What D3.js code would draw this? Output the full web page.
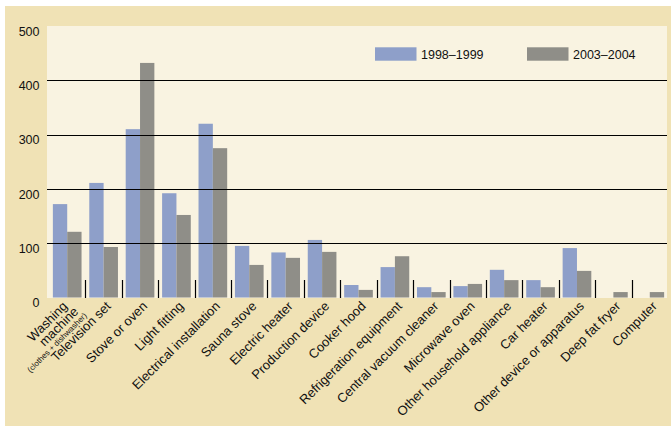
<!DOCTYPE html>
<html>
<head>
<meta charset="utf-8">
<script src="https://cdn.jsdelivr.net/npm/d3@7"></script>
<style>
  html, body { margin: 0; padding: 0; background: #ffffff; }
  svg { display: block; font-family: "Liberation Sans", Arial, Helvetica, sans-serif; }
</style>
</head>
<body>
<svg id="chart" width="671" height="426"></svg>
<script>
const categories = [
  "Washing machine", "Television set", "Stove or oven", "Light fitting",
  "Electrical installation", "Sauna stove", "Electric heater", "Production device",
  "Cooker hood", "Refrigeration equipment", "Central vacuum cleaner", "Microwave oven",
  "Other household appliance", "Car heater", "Other device or apparatus",
  "Deep fat fryer", "Computer"
];
const seriesNames = ["1998–1999", "2003–2004"];
const values1998 = [172, 211, 310, 192, 320, 95, 83, 106, 23, 56, 19, 21, 51, 32, 91, 0, 0];
const values2003 = [121, 93, 432, 152, 275, 60, 73, 84, 14, 76, 10, 25, 32, 19, 49, 10, 10];
const yTicks = [0, 100, 200, 300, 400, 500];
const gridValues = [100, 200, 300, 400];

const colors = ["#8e9fc9", "#8f8e88"];

const svg = d3.select("#chart");

// outer panel
svg.append("rect").attr("x", 5).attr("y", 6).attr("width", 666).attr("height", 420).attr("fill", "#f0e2b5");
// plot area
const plotL = 47, plotR = 667, plotT = 26, plotB = 298;
svg.append("rect").attr("x", plotL).attr("y", plotT).attr("width", plotR - plotL).attr("height", plotB - plotT).attr("fill", "#f9f3e1");

const x0 = d3.scaleBand().domain(categories).range([49, 668]).paddingInner(0).paddingOuter(0);
const x1 = d3.scaleBand().domain(seriesNames).range([0, x0.bandwidth()]).paddingInner(0).paddingOuter(0.27);
const y = d3.scaleLinear().domain([0, 500]).range([297.5, 26]);

const data = categories.map((c, i) => ({ cat: c, vals: [values1998[i], values2003[i]] }));

// bars
const g = svg.append("g");
g.selectAll("g.grp").data(data).join("g")
  .attr("class", "grp")
  .attr("transform", d => `translate(${x0(d.cat)},0)`)
  .selectAll("rect").data(d => d.vals.map((v, k) => ({ s: seriesNames[k], v, k })))
  .join("rect")
  .attr("x", d => x1(d.s))
  .attr("width", x1.bandwidth())
  .attr("y", d => y(d.v))
  .attr("height", d => y(0) - y(d.v))
  .attr("fill", d => colors[d.k]);

// gridlines (drawn over bars)
svg.append("g").selectAll("line").data(gridValues).join("line")
  .attr("x1", plotL).attr("x2", plotR)
  .attr("y1", d => Math.round(y(d)) + 0.5).attr("y2", d => Math.round(y(d)) + 0.5)
  .attr("stroke", "#000").attr("stroke-width", 1.2);

// separator ticks at interior group boundaries
svg.append("g").selectAll("line").data(categories.slice(1)).join("line")
  .attr("x1", d => Math.round(x0(d)) + 0.5).attr("x2", d => Math.round(x0(d)) + 0.5)
  .attr("y1", 280).attr("y2", 298)
  .attr("stroke", "#000").attr("stroke-width", 1.2);

// y tick labels
svg.append("g").selectAll("text").data(yTicks).join("text")
  .attr("x", 39.5).attr("y", d => y(d) + 9.8)
  .attr("text-anchor", "end")
  .attr("font-size", "12.5px").attr("fill", "#111")
  .text(d => d);

// x labels
const xl = svg.append("g");
categories.forEach((c, i) => {
  const cx = x0(c) + x0.bandwidth() / 2 + (i === 0 ? 1 : 8);
  const t = xl.append("text")
    .attr("transform", `translate(${cx},307) rotate(-45)`)
    .attr("text-anchor", "end")
    .attr("font-size", "13px").attr("fill", "#111");
  if (i === 0) {
    t.append("tspan").attr("x", 0).attr("y", 0).text("Washing");
    t.append("tspan").attr("x", 4).attr("y", 11.5).text("machine");
    t.append("tspan").attr("x", 7).attr("y", 20).attr("font-size", "8px").text("(clothes + dishwasher)");
  } else {
    t.text(c);
  }
});

// legend
const legend = svg.append("g");
const legX = [375, 527];
seriesNames.forEach((s, k) => {
  legend.append("rect").attr("x", legX[k]).attr("y", 47.3).attr("width", 41.5).attr("height", 13.4).attr("fill", colors[k]);
  legend.append("text").attr("x", legX[k] + 46).attr("y", 58.6)
    .attr("font-size", "12.5px").attr("fill", "#111").text(s);
});
</script>
</body>
</html>
